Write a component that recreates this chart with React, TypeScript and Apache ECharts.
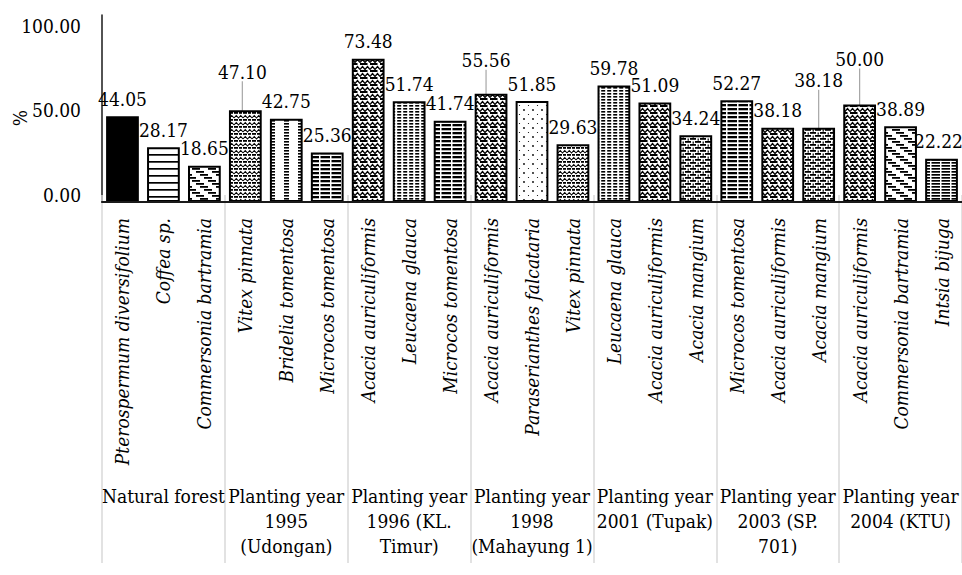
import { useEffect, useRef } from "react";
import * as echarts from "echarts";

// Site groups (second-level category labels)
const groupLabels = [
  "Natural forest",
  "Planting year\n1995\n(Udongan)",
  "Planting year\n1996 (KL.\nTimur)",
  "Planting year\n1998\n(Mahayung 1)",
  "Planting year\n2001 (Tupak)",
  "Planting year\n2003 (SP.\n701)",
  "Planting year\n2004 (KTU)",
];

// Species, three per site, in site order
const speciesNames = [
  "Pterospermum diversifolium", "Coffea sp.", "Commersonia bartramia",
  "Vitex pinnata", "Bridelia tomentosa", "Microcos tomentosa",
  "Acacia auriculiformis", "Leucaena glauca", "Microcos tomentosa",
  "Acacia auriculiformis", "Paraserianthes falcataria", "Vitex pinnata",
  "Leucaena glauca", "Acacia auriculiformis", "Acacia mangium",
  "Microcos tomentosa", "Acacia auriculiformis", "Acacia mangium",
  "Acacia auriculiformis", "Commersonia bartramia", "Intsia bijuga",
];

// Percentage per species
const percentValues = [
  44.05, 28.17, 18.65,
  47.1, 42.75, 25.36,
  73.48, 51.74, 41.74,
  55.56, 51.85, 29.63,
  59.78, 51.09, 34.24,
  52.27, 38.18, 38.18,
  50.0, 38.89, 22.22,
];

// Tick labels of the value axis
const yTickValues = [0, 50, 100];

const FONT = "DejaVu Serif Condensed, DejaVu Serif, serif";
const FS = 19;

// Black-on-white hatch tile used as a repeating fill
const tile = (w: number, h: number, body: string) => ({
  image:
    "data:image/svg+xml;charset=utf-8," +
    encodeURIComponent(
      `<svg xmlns="http://www.w3.org/2000/svg" width="${w}" height="${h}" viewBox="0 0 ${w} ${h}"><rect width="${w}" height="${h}" fill="#fff"/>${body}</svg>`
    ),
  repeat: "repeat",
  imageWidth: w,
  imageHeight: h,
});

const diagonalDashes = (() => {
  let body = "";
  for (let k = 0; k < 4; k++) {
    const x = 4 * k;
    const y = 3 * k;
    body += `<rect x="${x}" y="${y}" width="8" height="1.8" fill="#000"/>`;
    if (x + 8 > 16) body += `<rect x="${x - 16}" y="${y}" width="8" height="1.8" fill="#000"/>`;
  }
  return tile(16, 12, body);
})();

const fills: Record<string, any> = {
  "Pterospermum diversifolium": "#000",
  "Coffea sp.": tile(8, 7, `<rect y="0" width="8" height="1.7" fill="#000"/>`),
  "Commersonia bartramia": diagonalDashes,
  "Vitex pinnata": tile(
    9,
    7,
    `<rect x="0" y="0" width="4" height="1.8" fill="#000"/><rect x="5" y="0" width="3" height="1.8" fill="#000"/><polyline points="0,6 2.25,3.5 4.5,6 6.75,3.5 9,6" fill="none" stroke="#000" stroke-width="1.1"/>`
  ),
  "Bridelia tomentosa": tile(14, 3, `<rect x="4" y="0" width="5" height="1.6" fill="#000"/>`),
  "Microcos tomentosa": tile(11, 4, `<rect x="1.5" y="0" width="9.5" height="2.3" fill="#000"/>`),
  "Acacia auriculiformis": tile(
    10,
    7,
    `<rect x="0" y="0" width="7.5" height="2" fill="#000"/><polyline points="0,6.5 2.5,3.5 5,6.5 7.5,3.5 10,6.5" fill="none" stroke="#000" stroke-width="1.3"/>`
  ),
  "Leucaena glauca": tile(6, 3, `<rect x="1.2" y="0" width="4" height="1.6" fill="#000"/>`),
  "Paraserianthes falcataria": tile(
    9,
    9,
    `<circle cx="2" cy="2" r="0.9" fill="#000"/><circle cx="6.5" cy="6.5" r="0.6" fill="#000"/>`
  ),
  "Acacia mangium": tile(
    10,
    6,
    `<rect x="0" y="0" width="6" height="1.8" fill="#000"/><rect x="5" y="3" width="5" height="1.8" fill="#000"/><rect x="0" y="3" width="1" height="1.8" fill="#000"/><rect x="7.6" y="0.5" width="1.2" height="2.2" fill="#000"/><rect x="2.6" y="3.5" width="1.2" height="2.2" fill="#000"/>`
  ),
  "Intsia bijuga": tile(10, 3, `<rect x="1.5" y="0" width="8.5" height="1.7" fill="#000"/>`),
};

// Value labels lifted above their bars with a leader line
const labelShift: Record<number, [number, number]> = {
  3: [-3, -21],
  9: [-5, -16],
  17: [0, -30],
  18: [0, -28],
  20: [-3, 0],
};
const leaderLines = [3, 9, 17, 18];

export default function App() {
  const ref = useRef<HTMLDivElement>(null);

  useEffect(() => {
    if (!ref.current) return;
    const chart = echarts.init(ref.current, null, { renderer: "svg" });

    const option: any = {
      animation: false,
      backgroundColor: "#fff",
      textStyle: { fontFamily: FONT },
      grid: { left: 102, right: 0, top: 15, bottom: 373, outerBoundsMode: "none" },
      xAxis: [
        {
          type: "category",
          data: speciesNames,
          position: "bottom",
          axisLine: { show: true, lineStyle: { color: "#1a1a1a", width: 2.2 } },
          axisTick: { show: false },
          axisLabel: {
            interval: 0,
            rotate: 90,
            margin: 16,
            fontSize: FS,
            fontStyle: "italic",
            fontFamily: FONT,
            color: "#000",
          },
          splitLine: { show: false },
          z: 5,
        },
        {
          type: "category",
          data: groupLabels,
          position: "bottom",
          offset: 0,
          axisLine: { show: false },
          axisTick: {
            show: true,
            interval: 0,
            length: 368,
            lineStyle: { color: "#d9d9d9", width: 1.5 },
          },
          axisLabel: {
            interval: 0,
            margin: 281,
            fontSize: FS,
            lineHeight: 25,
            fontFamily: FONT,
            color: "#000",
            align: "center",
          },
          splitLine: { show: false },
        },
      ],
      yAxis: [
        {
          type: "value",
          min: 0,
          max: 96,
          position: "left",
          axisLine: { show: true, lineStyle: { color: "#1a1a1a", width: 1.5 } },
          axisTick: { show: false },
          axisLabel: { show: false },
          splitLine: { show: false },
        },
        {
          type: "value",
          min: -4.14,
          max: 106.5,
          position: "left",
          offset: 0,
          axisLine: { show: false },
          axisTick: { show: false },
          splitLine: { show: false },
          axisLabel: {
            show: true,
            customValues: yTickValues,
            margin: 21,
            fontSize: FS,
            fontFamily: FONT,
            color: "#000",
            formatter: (v: number) => v.toFixed(2),
          },
        },
      ],
      graphic: [
        {
          type: "text",
          x: 20,
          y: 118,
          rotation: Math.PI / 2,
          style: {
            text: "%",
            fontSize: FS,
            fontFamily: FONT,
            fill: "#000",
            align: "center",
            verticalAlign: "middle",
          },
        },
      ],
      series: [
        {
          type: "bar",
          xAxisIndex: 0,
          yAxisIndex: 0,
          barCategoryGap: "20%",
          data: percentValues.map((v, i) => ({
            value: v,
            itemStyle: { color: fills[speciesNames[i]] },
            labelLine: { show: leaderLines.includes(i) },
          })),
          itemStyle: { borderColor: "#000", borderWidth: 2 },
          label: {
            show: true,
            position: "top",
            distance: 8,
            fontSize: FS,
            fontFamily: FONT,
            color: "#000",
            formatter: (p: any) => Number(p.value).toFixed(2),
          },
          labelLine: { show: false, lineStyle: { color: "#a6a6a6", width: 1.2 } },
          labelLayout: (p: any) => {
            const s = labelShift[p.dataIndex];
            return s ? { dx: s[0], dy: s[1] } : {};
          },
        },
      ],
    };

    chart.setOption(option);
    return () => chart.dispose();
  }, []);

  return (
    <div
      ref={ref}
      style={{ position: "absolute", left: 0, top: 0, width: 962, height: 575 }}
    />
  );
}
